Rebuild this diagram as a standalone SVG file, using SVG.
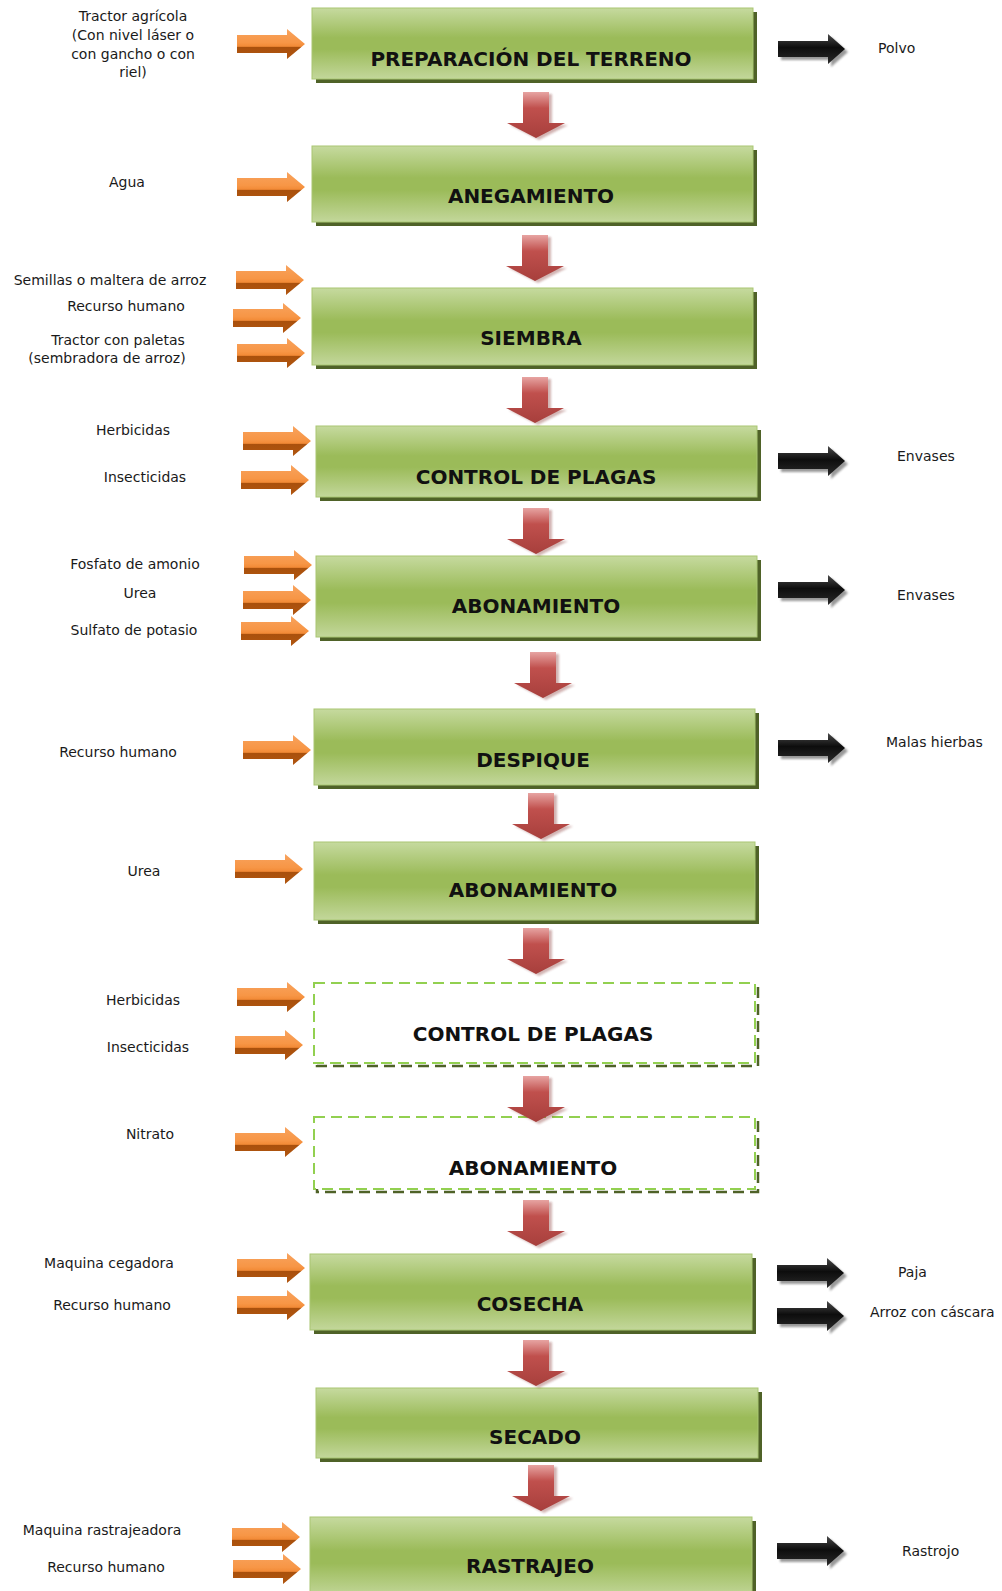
<svg xmlns="http://www.w3.org/2000/svg" width="1002" height="1591" viewBox="0 0 1002 1591">
<style>
.box{fill:url(#gGreen);stroke:#a9c672;stroke-width:1}
.shadow{fill:#4f6228}
.dbox{fill:#ffffff;stroke:#92d050;stroke-width:2;stroke-dasharray:11 6}
.dshadow{fill:none;stroke:#4f6228;stroke-width:2.5;stroke-dasharray:11 6}
.title{font-family:"DejaVu Sans",Verdana,sans-serif;font-weight:bold;font-size:20px;fill:#111;text-anchor:middle}
.lbl{font-family:"DejaVu Sans",Verdana,sans-serif;font-size:14px;fill:#1a1a1a}
.lc{text-anchor:middle}
.orange{fill:url(#gOrange)}
.black{fill:url(#gBlack)}
.bshadow{fill:#808080;opacity:0.8;filter:url(#blur)}
.red{fill:url(#gRed)}
.rshadow{fill:#7f2a28;opacity:0.35;filter:url(#blur)}
</style>
<defs>
<linearGradient id="gGreen" x1="0" y1="0" x2="0" y2="1">
<stop offset="0" stop-color="#c6da9f"/>
<stop offset="0.42" stop-color="#9bbb59"/>
<stop offset="0.58" stop-color="#9bbb59"/>
<stop offset="1" stop-color="#c3d79b"/>
</linearGradient>
<linearGradient id="gOrange" x1="0" y1="0" x2="0" y2="1">
<stop offset="0" stop-color="#f8a35e"/>
<stop offset="0.45" stop-color="#f79646"/>
<stop offset="0.58" stop-color="#f28a36"/>
<stop offset="0.6" stop-color="#a9500c"/>
<stop offset="1" stop-color="#b15610"/>
</linearGradient>
<linearGradient id="gBlack" x1="0" y1="0" x2="0" y2="1">
<stop offset="0" stop-color="#4a4a4a"/>
<stop offset="0.45" stop-color="#0d0d0d"/>
<stop offset="1" stop-color="#2a2a2a"/>
</linearGradient>
<linearGradient id="gRed" x1="0" y1="0" x2="0" y2="1">
<stop offset="0" stop-color="#e7a4a2"/>
<stop offset="0.35" stop-color="#c0504d"/>
<stop offset="1" stop-color="#a73f3c"/>
</linearGradient>
<filter id="blur" x="-20%" y="-20%" width="140%" height="140%"><feGaussianBlur stdDeviation="1"/></filter>
<polygon id="oArrow" points="0,-9 50,-9 50,-15 68,0 50,15 50,9 0,9"/>
<polygon id="kArrow" points="0,-8 50,-8 50,-15 67,0 50,15 50,8 0,8"/>
<polygon id="rArrow" points="-13,0 13,0 13,31 29,31 0,46 -29,31 -13,31"/>
</defs>

<!-- process nodes -->
<g id="n-preparacion">
<rect class="shadow" x="316" y="12" width="441" height="71"/>
<rect class="box" x="312" y="8" width="441" height="71"/>
<text class="title" x="531" y="66">PREPARACIÓN DEL TERRENO</text>
</g>
<g id="n-anegamiento">
<rect class="shadow" x="316" y="150" width="441" height="76"/>
<rect class="box" x="312" y="146" width="441" height="76"/>
<text class="title" x="531" y="203">ANEGAMIENTO</text>
</g>
<g id="n-siembra">
<rect class="shadow" x="316" y="292" width="441" height="77"/>
<rect class="box" x="312" y="288" width="441" height="77"/>
<text class="title" x="531" y="345">SIEMBRA</text>
</g>
<g id="n-control1">
<rect class="shadow" x="320" y="430" width="441" height="71"/>
<rect class="box" x="316" y="426" width="441" height="71"/>
<text class="title" x="536" y="484">CONTROL DE PLAGAS</text>
</g>
<g id="n-abonamiento1">
<rect class="shadow" x="320" y="560" width="441" height="81"/>
<rect class="box" x="316" y="556" width="441" height="81"/>
<text class="title" x="536" y="613">ABONAMIENTO</text>
</g>
<g id="n-despique">
<rect class="shadow" x="318" y="713" width="441" height="76"/>
<rect class="box" x="314" y="709" width="441" height="76"/>
<text class="title" x="533" y="767">DESPIQUE</text>
</g>
<g id="n-abonamiento2">
<rect class="shadow" x="318" y="846" width="441" height="78"/>
<rect class="box" x="314" y="842" width="441" height="78"/>
<text class="title" x="533" y="897">ABONAMIENTO</text>
</g>
<g id="n-control2">
<rect class="dshadow" x="317" y="986" width="441" height="80"/>
<rect class="dbox" x="314" y="983" width="441" height="80"/>
<text class="title" x="533" y="1041">CONTROL DE PLAGAS</text>
</g>
<g id="n-abonamiento3">
<rect class="dshadow" x="317" y="1120" width="441" height="72"/>
<rect class="dbox" x="314" y="1117" width="441" height="72"/>
<text class="title" x="533" y="1175">ABONAMIENTO</text>
</g>
<g id="n-cosecha">
<rect class="shadow" x="314" y="1258" width="442" height="76"/>
<rect class="box" x="310" y="1254" width="442" height="76"/>
<text class="title" x="530" y="1311">COSECHA</text>
</g>
<g id="n-secado">
<rect class="shadow" x="320" y="1392" width="442" height="70"/>
<rect class="box" x="316" y="1388" width="442" height="70"/>
<text class="title" x="535" y="1444">SECADO</text>
</g>
<g id="n-rastrajeo">
<rect class="shadow" x="314" y="1521" width="442" height="80"/>
<rect class="box" x="310" y="1517" width="442" height="80"/>
<text class="title" x="530" y="1573">RASTRAJEO</text>
</g>

<!-- input labels -->
<g id="in-labels" class="lbl lc">
<text x="133" y="21">Tractor agrícola</text>
<text x="133" y="40">(Con nivel láser o</text>
<text x="133" y="59">con gancho o con</text>
<text x="133" y="77">riel)</text>
<text x="127" y="187">Agua</text>
<text x="110" y="285">Semillas o maltera de arroz</text>
<text x="126" y="311">Recurso humano</text>
<text x="118" y="345">Tractor con paletas</text>
<text x="107" y="363">(sembradora de arroz)</text>
<text x="133" y="435">Herbicidas</text>
<text x="145" y="482">Insecticidas</text>
<text x="135" y="569">Fosfato de amonio</text>
<text x="140" y="598">Urea</text>
<text x="134" y="635">Sulfato de potasio</text>
<text x="118" y="757">Recurso humano</text>
<text x="144" y="876">Urea</text>
<text x="143" y="1005">Herbicidas</text>
<text x="148" y="1052">Insecticidas</text>
<text x="150" y="1139">Nitrato</text>
<text x="109" y="1268">Maquina cegadora</text>
<text x="112" y="1310">Recurso humano</text>
<text x="102" y="1535">Maquina rastrajeadora</text>
<text x="106" y="1572">Recurso humano</text>
</g>

<!-- output labels -->
<g id="out-labels" class="lbl">
<text x="878" y="53">Polvo</text>
<text x="897" y="461">Envases</text>
<text x="897" y="600">Envases</text>
<text x="886" y="747">Malas hierbas</text>
<text x="898" y="1277">Paja</text>
<text x="870" y="1317">Arroz con cáscara</text>
<text x="902" y="1556">Rastrojo</text>
</g>

<!-- connectors -->
<g id="connectors">
<g id="flow-arrows">
<use href="#rArrow" class="rshadow" x="539" y="94"/><use href="#rArrow" class="red" x="536" y="92"/>
<use href="#rArrow" class="rshadow" x="538" y="237"/><use href="#rArrow" class="red" x="535" y="235"/>
<use href="#rArrow" class="rshadow" x="538" y="379"/><use href="#rArrow" class="red" x="535" y="377"/>
<use href="#rArrow" class="rshadow" x="539" y="510"/><use href="#rArrow" class="red" x="536" y="508"/>
<use href="#rArrow" class="rshadow" x="546" y="654"/><use href="#rArrow" class="red" x="543" y="652"/>
<use href="#rArrow" class="rshadow" x="544" y="795"/><use href="#rArrow" class="red" x="541" y="793"/>
<use href="#rArrow" class="rshadow" x="539" y="930"/><use href="#rArrow" class="red" x="536" y="928"/>
<use href="#rArrow" class="rshadow" x="539" y="1078"/><use href="#rArrow" class="red" x="536" y="1076"/>
<use href="#rArrow" class="rshadow" x="539" y="1202"/><use href="#rArrow" class="red" x="536" y="1200"/>
<use href="#rArrow" class="rshadow" x="539" y="1342"/><use href="#rArrow" class="red" x="536" y="1340"/>
<use href="#rArrow" class="rshadow" x="544" y="1467"/><use href="#rArrow" class="red" x="541" y="1465"/>
</g>
<g id="input-arrows" class="orange">
<use href="#oArrow" x="237" y="44"/>
<use href="#oArrow" x="237" y="187"/>
<use href="#oArrow" x="236" y="280"/>
<use href="#oArrow" x="233" y="318"/>
<use href="#oArrow" x="237" y="353"/>
<use href="#oArrow" x="243" y="441"/>
<use href="#oArrow" x="241" y="480"/>
<use href="#oArrow" x="244" y="565"/>
<use href="#oArrow" x="243" y="600"/>
<use href="#oArrow" x="241" y="631"/>
<use href="#oArrow" x="243" y="750"/>
<use href="#oArrow" x="235" y="869"/>
<use href="#oArrow" x="237" y="997"/>
<use href="#oArrow" x="235" y="1045"/>
<use href="#oArrow" x="235" y="1142"/>
<use href="#oArrow" x="237" y="1268"/>
<use href="#oArrow" x="237" y="1305"/>
<use href="#oArrow" x="232" y="1537"/>
<use href="#oArrow" x="233" y="1569"/>
</g>
<g id="output-arrows">
<use href="#kArrow" class="bshadow" x="781" y="52"/><use href="#kArrow" class="black" x="778" y="49"/>
<use href="#kArrow" class="bshadow" x="781" y="464"/><use href="#kArrow" class="black" x="778" y="461"/>
<use href="#kArrow" class="bshadow" x="781" y="593"/><use href="#kArrow" class="black" x="778" y="590"/>
<use href="#kArrow" class="bshadow" x="781" y="751"/><use href="#kArrow" class="black" x="778" y="748"/>
<use href="#kArrow" class="bshadow" x="780" y="1276"/><use href="#kArrow" class="black" x="777" y="1273"/>
<use href="#kArrow" class="bshadow" x="780" y="1319"/><use href="#kArrow" class="black" x="777" y="1316"/>
<use href="#kArrow" class="bshadow" x="780" y="1554"/><use href="#kArrow" class="black" x="777" y="1551"/>
</g>
</g>
</svg>
